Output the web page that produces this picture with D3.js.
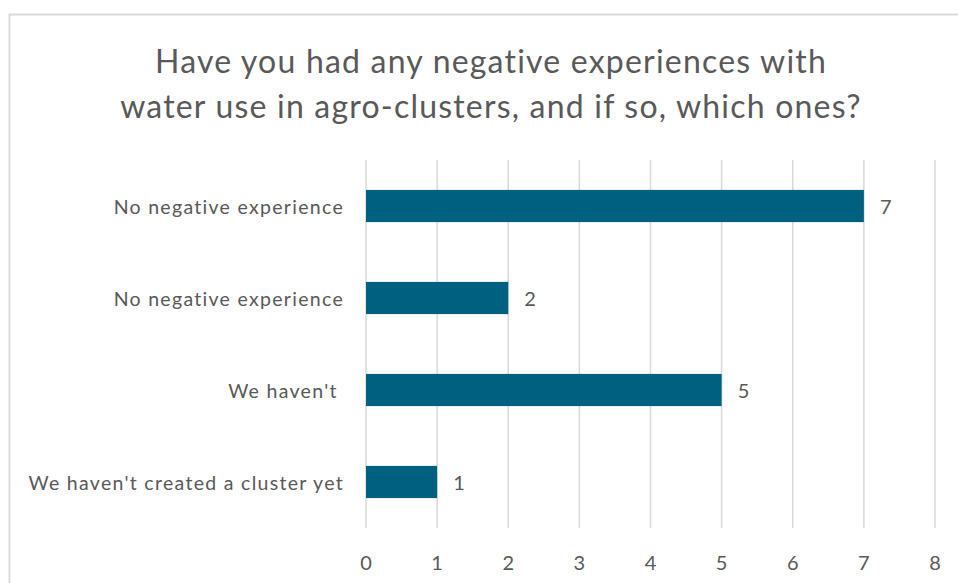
<!DOCTYPE html>
<html>
<head>
<meta charset="utf-8">
<script src="https://cdn.jsdelivr.net/npm/d3@7"></script>
<style>
  body { margin: 0; background: #fff; }
  text { font-family: Lato, "Open Sans", sans-serif; fill: #595959; white-space: pre; }
</style>
</head>
<body>
<script>
var categories = ["No negative experience", "No negative experience", "We haven't ", "We haven't created a cluster yet"];
var counts = [7, 2, 5, 1];
var xTicks = [0, 1, 2, 3, 4, 5, 6, 7, 8];
var titleLines = ["Have you had any negative experiences with", "water use in agro-clusters, and if so, which ones?"];

var width = 958, height = 583;
var svg = d3.select("body").append("svg")
  .attr("width", width)
  .attr("height", height);

// chart frame
svg.append("rect")
  .attr("x", 9.5).attr("y", 14.5)
  .attr("width", 960).attr("height", 600)
  .attr("fill", "#fff")
  .attr("stroke", "#d9d9d9")
  .attr("stroke-width", 2);

var x = d3.scaleLinear().domain([0, 8]).range([366, 935]);
var y = d3.scaleBand().domain(d3.range(categories.length)).range([160, 528]).paddingInner(0.65).paddingOuter(0.325);

// gridlines
svg.append("g").selectAll("line")
  .data(xTicks)
  .enter().append("line")
  .attr("x1", function(d) { return x(d); })
  .attr("x2", function(d) { return x(d); })
  .attr("y1", 160).attr("y2", 528)
  .attr("stroke", "#d9d9d9")
  .attr("stroke-width", 1.5);

// tick labels
svg.append("g").selectAll("text")
  .data(xTicks)
  .enter().append("text")
  .attr("x", function(d) { return x(d); })
  .attr("y", 562)
  .attr("text-anchor", "middle")
  .attr("dominant-baseline", "central")
  .style("font-size", "20px")
  .text(function(d) { return d; });

// bars
svg.append("g").selectAll("rect")
  .data(counts)
  .enter().append("rect")
  .attr("x", x(0))
  .attr("y", function(d, i) { return y(i); })
  .attr("width", function(d) { return x(d) - x(0); })
  .attr("height", y.bandwidth())
  .attr("fill", "#00607f");

// value labels
svg.append("g").selectAll("text")
  .data(counts)
  .enter().append("text")
  .attr("x", function(d) { return x(d) + 16; })
  .attr("y", function(d, i) { return y(i) + y.bandwidth() / 2; })
  .attr("dominant-baseline", "central")
  .style("font-size", "20px")
  .text(function(d) { return d; });

// category labels
svg.append("g").selectAll("text")
  .data(categories)
  .enter().append("text")
  .attr("x", 344)
  .attr("y", function(d, i) { return y(i) + y.bandwidth() / 2; })
  .attr("text-anchor", "end")
  .attr("dominant-baseline", "central")
  .style("font-size", "19.5px")
  .style("letter-spacing", "1.3px")
  .text(function(d) { return d; });

// title
svg.append("g").selectAll("text")
  .data(titleLines)
  .enter().append("text")
  .attr("x", 491)
  .attr("y", function(d, i) { return 60 + i * 45; })
  .attr("text-anchor", "middle")
  .attr("dominant-baseline", "central")
  .style("font-size", "32px")
  .style("letter-spacing", "1.2px")
  .text(function(d) { return d; });
</script>
</body>
</html>
